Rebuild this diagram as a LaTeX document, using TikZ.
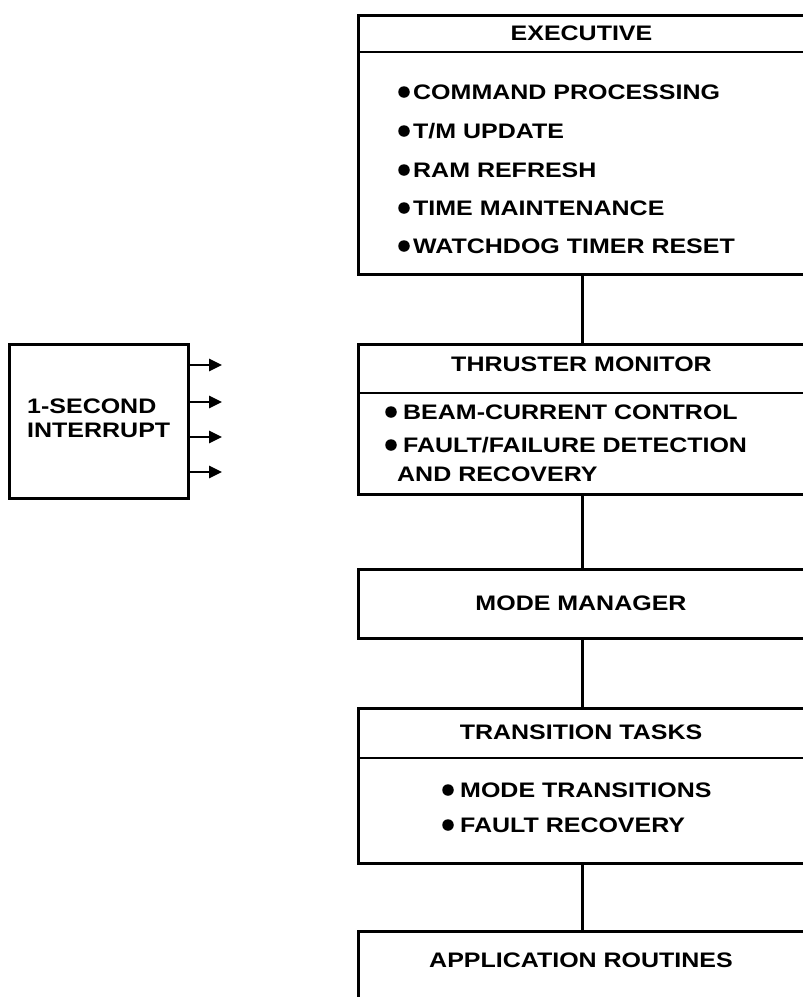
\documentclass[tikz,border=0pt]{standalone}
\usepackage{fontspec}
\setmainfont{Liberation Sans}[FakeStretch=1.19]
\usetikzlibrary{arrows.meta}
\begin{document}
\begin{tikzpicture}[x=1pt,y=-1pt,
  box/.style={draw, line width=2.8pt, inner sep=0pt, anchor=north west, minimum width=449pt},
  ttl/.style={font=\fontsize{21}{24}\selectfont\bfseries, inner sep=0pt},
  itm/.style={font=\fontsize{21}{24}\selectfont\bfseries, inner sep=0pt, anchor=west},
  bul/.style={circle, fill, draw=none, inner sep=0pt, minimum size=11.5pt},
  sep/.style={line width=2.8pt},
  link/.style={line width=3pt},
  irq/.style={line width=2.8pt, -{Triangle[length=13pt,width=12pt]}}]
\useasboundingbox (0,0) rectangle (803,997);
\clip (0,0) rectangle (803,997);
\fill[white] (0,0) rectangle (803,997);

% EXECUTIVE
\node[box, minimum height=259pt] (exec) at (357,14) {};
\node[ttl] (exect) at (581.5,33) {EXECUTIVE};
\draw[sep] (exec.west |- 0,52) -- (exec.east |- 0,52);
\node[bul] (e1) at (404,92) {};  \node[itm] (e1t) at (413,92) {COMMAND PROCESSING};
\node[bul] (e2) at (404,131) {}; \node[itm] (e2t) at (413,131) {T/M UPDATE};
\node[bul] (e3) at (404,170) {}; \node[itm] (e3t) at (413,170) {RAM REFRESH};
\node[bul] (e4) at (404,208) {}; \node[itm] (e4t) at (413,208) {TIME MAINTENANCE};
\node[bul] (e5) at (404,246) {}; \node[itm] (e5t) at (413,246) {WATCHDOG TIMER RESET};

% THRUSTER MONITOR
\node[box, minimum height=150pt] (thr) at (357,343) {};
\node[ttl] (thrt) at (581.5,364) {THRUSTER MONITOR};
\draw[sep] (thr.west |- 0,393) -- (thr.east |- 0,393);
\node[bul] (t1) at (391,412) {}; \node[itm] (t1t) at (403,412) {BEAM-CURRENT CONTROL};
\node[bul] (t2) at (391,445) {}; \node[itm] (t2t) at (403,445) {FAULT/FAILURE DETECTION};
\node[itm] (t3t) at (397,474) {AND RECOVERY};

% MODE MANAGER
\node[box, minimum height=69pt] (mode) at (357,568) {};
\node[ttl] (modet) at (581,603) {MODE MANAGER};

% TRANSITION TASKS
\node[box, minimum height=155pt] (tran) at (357,707) {};
\node[ttl] (trant) at (581,732) {TRANSITION TASKS};
\draw[sep] (tran.west |- 0,758) -- (tran.east |- 0,758);
\node[bul] (r1) at (448,790) {}; \node[itm] (r1t) at (460,790) {MODE TRANSITIONS};
\node[bul] (r2) at (448,825) {}; \node[itm] (r2t) at (460,825) {FAULT RECOVERY};

% APPLICATION ROUTINES
\node[box, minimum height=100pt] (app) at (357,930) {};
\node[ttl] (appt) at (581,960) {APPLICATION ROUTINES};

% connectors
\draw[link] (exec.south) -- (thr.north);
\draw[link] (thr.south) -- (mode.north);
\draw[link] (mode.south) -- (tran.north);
\draw[link] (tran.south) -- (app.north);

% 1-SECOND INTERRUPT
\node[draw, line width=2.8pt, anchor=north west, minimum width=179pt, minimum height=154pt, inner sep=0pt] (irq) at (8,343) {};
\node[itm, align=left] (irqt) at (27,418.5) {1-SECOND\\INTERRUPT};
\coordinate (a1) at (222,365);
\coordinate (a2) at (222,402);
\coordinate (a3) at (222,437);
\coordinate (a4) at (222,472);
\draw[irq] (a1 -| irq.east) -- (a1);
\draw[irq] (a2 -| irq.east) -- (a2);
\draw[irq] (a3 -| irq.east) -- (a3);
\draw[irq] (a4 -| irq.east) -- (a4);
\end{tikzpicture}
\end{document}
